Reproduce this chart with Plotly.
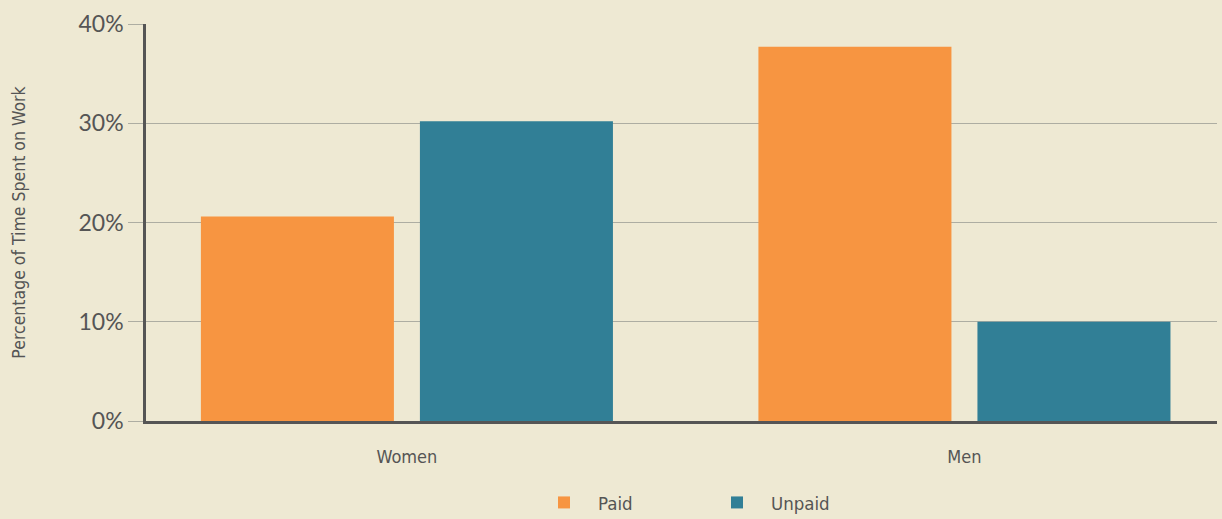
import plotly.graph_objects as go

categories = ["Women", "Men"]
paid = [20.6, 37.7]
unpaid = [30.2, 10.0]
y_ticks = [0, 10, 20, 30, 40]
y_tick_labels = ["0%", "10%", "20%", "30%", "40%"]

BG = "#EEE9D3"
ORANGE = "#F79541"
TEAL = "#317F96"
NARROW = "Liberation Sans Narrow, Arial Narrow, DejaVu Sans Condensed, sans-serif"

fig = go.Figure()
fig.add_trace(go.Bar(x=categories, y=paid, name="Paid", marker_color=ORANGE, marker_line_width=0))
fig.add_trace(go.Bar(x=categories, y=unpaid, name="Unpaid", marker_color=TEAL, marker_line_width=0))

fig.update_layout(
    width=1222, height=519,
    paper_bgcolor=BG, plot_bgcolor=BG,
    margin=dict(l=146, r=5, t=24, b=98, autoexpand=False),
    barmode="group", bargap=0.2143, bargroupgap=0.1187,
    showlegend=True,
    legend=dict(orientation="h", xref="container", yref="container",
                x=0.4337, xanchor="left", y=0.031, yanchor="middle",
                font=dict(family=NARROW, size=18.5, color="#555555"),
                itemwidth=58, traceorder="normal", entrywidthmode="pixels", entrywidth=100),
    font=dict(family=NARROW, color="#555555"),
)
fig.update_xaxes(
    range=[-0.468, 1.453], showgrid=False, showline=True, linecolor="#555555", linewidth=2.5,
    ticks="", tickfont=dict(family=NARROW, size=18, color="#555555"), ticklabelstandoff=18,
)
fig.update_yaxes(
    range=[0, 40], tickvals=y_ticks, ticktext=y_tick_labels,
    showgrid=True, gridcolor="#ADADA2", gridwidth=1.3, zeroline=False,
    showline=True, linecolor="#555555", linewidth=2.5,
    ticks="outside", ticklen=15, tickcolor="#ADADA2", tickwidth=1.3,
    tickfont=dict(family="Lato, Noto Sans, sans-serif", size=23, color="#555555"),
    title=dict(text="Percentage of Time Spent on Work", standoff=49,
               font=dict(family=NARROW, size=17.5, color="#555555")),
)

fig.write_html("out.html", config={"displayModeBar": False},
               post_script="document.body.style.margin='0';document.body.style.overflow='hidden';document.body.style.background='#EEE9D3';")
